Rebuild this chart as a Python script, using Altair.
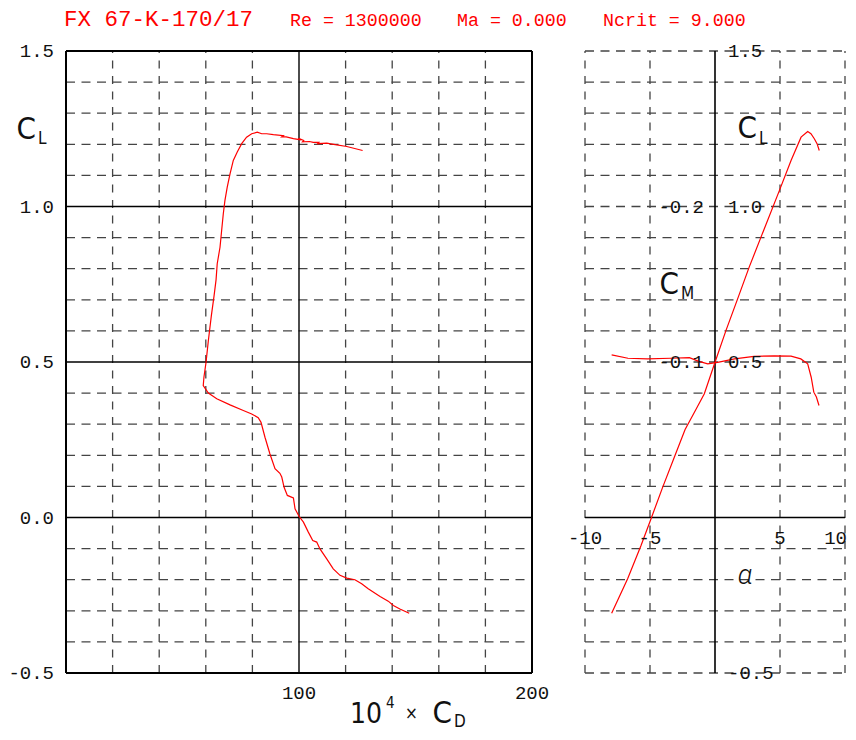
import altair as alt
import pandas as pd

# ---------------- data ----------------
TITLE_PARTS = ["FX 67-K-170/17", "Re = 1300000", "Ma = 0.000", "Ncrit = 9.000"]

# drag polar: 10^4 x CD  vs  CL
polar_cd = [147.3, 143.3, 140.5, 138.3, 134.8, 129.7, 126.9, 124.0, 120.5, 117.6,
            114.7, 111.9, 109.0, 107.6, 105.9, 104.0, 101.9, 100.0, 98.3, 97.6,
            95.0, 93.6, 92.6, 91.8, 89.7, 87.5, 85.4, 83.7, 82.5, 79.7,
            76.1, 70.4, 64.7, 61.1, 58.9, 59.2, 60.1, 61.1, 62.4, 63.5,
            64.4, 64.9, 66.1, 66.8, 67.5, 68.2, 69.2, 70.4, 71.8, 73.5,
            75.4, 77.5, 79.7, 82.1, 84.0, 86.1, 89.0, 93.3, 92.6, 94.5,
            97.6, 100.8, 99.8, 102.0, 101.5, 104.5, 106.1, 108.5, 108.0, 111.9,
            115.5, 120.5, 127.3]
polar_cl = [-0.308, -0.294, -0.283, -0.269, -0.254, -0.229, -0.213, -0.200, -0.195, -0.186,
            -0.165, -0.133, -0.101, -0.079, -0.074, -0.047, -0.015, 0.004, 0.028, 0.063,
            0.071, 0.097, 0.130, 0.142, 0.157, 0.205, 0.258, 0.306, 0.321, 0.333,
            0.344, 0.362, 0.382, 0.400, 0.424, 0.451, 0.499, 0.569, 0.650, 0.710,
            0.764, 0.816, 0.869, 0.923, 0.976, 1.019, 1.062, 1.105, 1.148, 1.175,
            1.202, 1.223, 1.234, 1.239, 1.234, 1.234, 1.231, 1.228, 1.224, 1.224,
            1.218, 1.214, 1.219, 1.212, 1.208, 1.209, 1.206, 1.206, 1.202, 1.204,
            1.199, 1.193, 1.180]

# lift curve: alpha vs CL
alpha_cl_a = [-7.95, -6.72, -5.69, -4.92, -4.03, -3.13, -2.30, -1.50, -0.82, 0.0,
              0.84, 1.74, 2.63, 3.74, 4.95, 5.85, 6.62, 7.13, 7.38, 7.64, 7.85, 8.02]
alpha_cl = [-0.308, -0.197, -0.090, -0.004, 0.097, 0.194, 0.283, 0.345, 0.398, 0.499,
            0.601, 0.703, 0.805, 0.923, 1.051, 1.148, 1.223, 1.241, 1.234, 1.218, 1.202, 1.180]

# moment curve: alpha vs CM
cm_a = [-7.95, -6.7, -5.2, -3.4, -1.97, -1.3, -0.56, 0.2, 1.5, 3.0,
        4.56, 5.85, 6.6, 7.13, 7.4, 7.6, 7.8, 8.0]
cm_vals = [-0.1046, -0.1024, -0.1020, -0.1024, -0.1028, -0.1006, -0.0988, -0.0998, -0.1020, -0.1036,
           -0.1040, -0.1038, -0.1020, -0.0988, -0.0902, -0.0806, -0.0775, -0.0720]

# ticks / grid values
cl_minor = [-0.4, -0.3, -0.2, -0.1, 0.1, 0.2, 0.3, 0.4, 0.6, 0.7, 0.8, 0.9, 1.1, 1.2, 1.3, 1.4]
cl_major = [-0.5, 0.0, 0.5, 1.0, 1.5]
cl_major_labels = ["-0.5", "0.0", "0.5", "1.0", "1.5"]
cd_minor = [20, 40, 60, 80, 120, 140, 160, 180]
cd_label_at = [100, 200]
cd_labels = ["100", "200"]
alpha_grid = [-10, -5, 5, 10]
alpha_label_at = [-10, -5, 5, 10]
alpha_labels = ["-10", "-5", "5", "10"]
cl_right_grid = [-0.5, -0.4, -0.3, -0.2, -0.1, 0.1, 0.2, 0.3, 0.4, 0.5, 0.6, 0.7,
                 0.8, 0.9, 1.0, 1.1, 1.2, 1.3, 1.4, 1.5]
cl_right_label_at = [1.5, 1.0, 0.5, -0.5]
cl_right_labels = ["1.5", "1.0", "0.5", "-0.5"]
cm_label_at = [-0.2, -0.1]
cm_labels = ["-0.2", "-0.1"]

# ---------------- style ----------------
WL, WR, H = 466, 260, 622
MONO = "Liberation Mono"
SANS = "Liberation Sans Narrow, DejaVu Sans Condensed, Roboto"
RED = "#ff0000"
GRID = "#444444"
INK = "#111111"
DASH_H = [9, 6.5]
DASH_V = [8, 7.5]

ycl = alt.Scale(domain=[-0.5, 1.5], nice=False, zero=False)
xcd = alt.Scale(domain=[0, 200], nice=False, zero=False)
xal = alt.Scale(domain=[-10, 10], nice=False, zero=False)
ycm = alt.Scale(domain=[-0.3, 0.1], nice=False, zero=False, reverse=True)

one = pd.DataFrame({"k": [0]})


def hrules(vals, xs, x0, x1, **mk):
    return alt.Chart(pd.DataFrame({"v": vals})).mark_rule(**mk).encode(
        y=alt.Y("v:Q", scale=ycl, axis=None),
        x=alt.XDatum(x0, scale=xs, axis=None),
        x2=alt.X2Datum(x1),
    )


def vrules(vals, xs, **mk):
    return alt.Chart(pd.DataFrame({"v": vals})).mark_rule(**mk).encode(
        x=alt.X("v:Q", scale=xs, axis=None),
        y=alt.YDatum(-0.5, scale=ycl, axis=None),
        y2=alt.Y2Datum(1.5),
    )


def note(text, x, y, size, font=SANS, color=INK, **kw):
    return alt.Chart(one).mark_text(text=text, font=font, fontSize=size, color=color,
                                    align=kw.pop("align", "left"),
                                    baseline=kw.pop("baseline", "alphabetic"), **kw).encode(
        x=alt.value(x), y=alt.value(y))


# ---------------- left panel: CL vs CD ----------------
polar_df = pd.DataFrame({"cd": polar_cd, "cl": polar_cl, "i": range(len(polar_cd))})

left_layers = [
    hrules(cl_minor, xcd, 0, 200, color=GRID, strokeWidth=1.3, strokeDash=DASH_H),
    vrules(cd_minor, xcd, color=GRID, strokeWidth=1.3, strokeDash=DASH_V),
    hrules([0.0, 0.5, 1.0], xcd, 0, 200, color="#000", strokeWidth=1.4),
    vrules([100], xcd, color="#000", strokeWidth=1.4),
    hrules([-0.5, 1.5], xcd, 0, 200, color="#000", strokeWidth=2),
    vrules([0, 200], xcd, color="#000", strokeWidth=2),
    alt.Chart(polar_df).mark_line(color=RED, strokeWidth=1.2).encode(
        x=alt.X("cd:Q", scale=xcd, axis=None),
        y=alt.Y("cl:Q", scale=ycl, axis=None),
        order=alt.Order("i:Q"),
    ),
    alt.Chart(pd.DataFrame({"v": cl_major, "t": cl_major_labels})).mark_text(
        align="right", baseline="middle", dx=-12, font=MONO, fontSize=19, color=INK).encode(
        x=alt.XDatum(0, scale=xcd, axis=None),
        y=alt.Y("v:Q", scale=ycl, axis=None),
        text="t:N",
    ),
    alt.Chart(pd.DataFrame({"v": cd_label_at, "t": cd_labels})).mark_text(
        align="center", baseline="top", dy=11, font=MONO, fontSize=19, color=INK).encode(
        x=alt.X("v:Q", scale=xcd, axis=None),
        y=alt.YDatum(-0.5, scale=ycl, axis=None),
        text="t:N",
    ),
    # axis titles
    note("C", -30, 88, 31, fontWeight=300, align="right"),
    note("L", -28, 93, 17, fontWeight=300),
    note("10", 316, 672, 28, fontWeight=300, align="right"),
    note("4", 320, 657, 15, fontWeight=300),
    note("\u00d7", 339, 668, 17, fontWeight=300),
    note("C", 386, 672, 31, fontWeight=300, align="right"),
    note("D", 388, 676, 17, fontWeight=300),
    # title line
    note(TITLE_PARTS[0], -2, -25, 22.5, font=MONO, color=RED),
    note(TITLE_PARTS[1], 224, -25, 18.3, font=MONO, color=RED),
    note(TITLE_PARTS[2], 391, -25, 18.3, font=MONO, color=RED),
    note(TITLE_PARTS[3], 537, -25, 18.3, font=MONO, color=RED),
]
left = alt.layer(*left_layers).properties(width=WL, height=H)

# ---------------- right panel: CL, CM vs alpha ----------------
cla_df = pd.DataFrame({"a": alpha_cl_a, "cl": alpha_cl, "i": range(len(alpha_cl_a))})
cm_df = pd.DataFrame({"a": cm_a, "cm": cm_vals, "i": range(len(cm_a))})
alab_df = pd.DataFrame({"v": alpha_label_at, "t": alpha_labels})

right_layers = [
    hrules(cl_right_grid, xal, -10, 10, color=GRID, strokeWidth=1.3, strokeDash=DASH_H),
    vrules(alpha_grid, xal, color=GRID, strokeWidth=1.3, strokeDash=DASH_V),
    hrules([0.0], xal, -10, 10, color="#000", strokeWidth=1.6),
    vrules([0], xal, color="#000", strokeWidth=1.6),
    alt.Chart(cla_df).mark_line(color=RED, strokeWidth=1.2).encode(
        x=alt.X("a:Q", scale=xal, axis=None),
        y=alt.Y("cl:Q", scale=ycl, axis=None),
        order=alt.Order("i:Q"),
    ),
    alt.Chart(cm_df).mark_line(color=RED, strokeWidth=1.2).encode(
        x=alt.X("a:Q", scale=xal, axis=None),
        y=alt.Y("cm:Q", scale=ycm, axis=None),
        order=alt.Order("i:Q"),
    ),
    alt.Chart(pd.DataFrame({"v": cl_right_label_at, "t": cl_right_labels})).mark_text(
        align="left", baseline="middle", dx=13, font=MONO, fontSize=19, color=INK).encode(
        x=alt.XDatum(0, scale=xal, axis=None),
        y=alt.Y("v:Q", scale=ycl, axis=None),
        text="t:N",
    ),
    alt.Chart(pd.DataFrame({"v": cm_label_at, "t": cm_labels})).mark_text(
        align="right", baseline="middle", dx=-11, font=MONO, fontSize=19, color=INK).encode(
        x=alt.XDatum(0, scale=xal, axis=None),
        y=alt.Y("v:Q", scale=ycm, axis=None),
        text="t:N",
    ),
    alt.Chart(alab_df.iloc[:-1]).mark_text(
        align="center", baseline="top", dy=11, font=MONO, fontSize=19, color=INK).encode(
        x=alt.X("v:Q", scale=xal, axis=None),
        y=alt.YDatum(0, scale=ycl, axis=None),
        text="t:N",
    ),
    alt.Chart(alab_df.iloc[-1:]).mark_text(
        align="right", baseline="top", dx=2, dy=11, font=MONO, fontSize=19, color=INK).encode(
        x=alt.X("v:Q", scale=xal, axis=None),
        y=alt.YDatum(0, scale=ycl, axis=None),
        text="t:N",
    ),
    note("C", 172, 87, 31, fontWeight=300, align="right"),
    note("L", 174, 93, 17, fontWeight=300),
    note("C", 94, 243, 31, fontWeight=300, align="right"),
    note("M", 96, 248, 17, fontWeight=300),
    note("\u03b1", 160, 533, 27, font="Roboto", align="center", fontStyle="italic", fontWeight=300),
]
right = alt.layer(*right_layers).resolve_scale(y="independent").properties(width=WR, height=H)

chart = alt.hconcat(left, right, spacing=53, bounds="flush").configure_view(
    strokeWidth=0
).properties(padding={"left": 0, "top": 0, "right": 0, "bottom": 0})

chart.save("out.html", embed_options={"renderer": "svg", "actions": False})
